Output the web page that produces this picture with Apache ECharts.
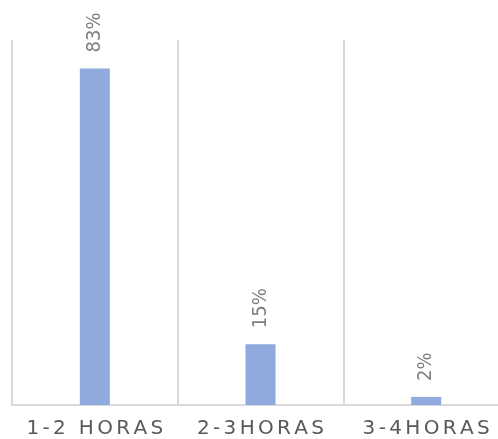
<!DOCTYPE html>
<html>
<head>
<meta charset="utf-8">
<script src="https://cdn.jsdelivr.net/npm/echarts@6/dist/echarts.min.js"></script>
<style>
  html, body { margin: 0; padding: 0; background: #fff; }
  #chart { width: 498px; height: 439px; }
</style>
</head>
<body>
<div id="chart"></div>
<script>
// categorias y porcentajes
var categories = ["1-2 HORAS", "2-3HORAS", "3-4HORAS"];
var values = [83, 15, 2];

// fuente estrecha para las etiquetas si existe
function hasFont(name) {
  var ctx = document.createElement("canvas").getContext("2d");
  ctx.font = "40px monospace";
  var a = ctx.measureText("8883%mmWi").width;
  ctx.font = "40px '" + name + "', monospace";
  var b = ctx.measureText("8883%mmWi").width;
  return a !== b;
}
var labelFont = "Liberation Sans";
var labelSize = 18;
if (hasFont("Liberation Sans Narrow")) {
  labelFont = "Liberation Sans Narrow";
  labelSize = 22;
} else if (hasFont("DejaVu Sans Condensed")) {
  labelFont = "DejaVu Sans Condensed";
  labelSize = 20;
}

var chart = echarts.init(document.getElementById("chart"));

chart.setOption({
  animation: false,
  grid: {
    left: 12,
    top: 40,
    right: -11,
    bottom: 34,
    containLabel: false,
    outerBoundsMode: "none",
  },
  xAxis: {
    type: "category",
    data: categories,
    axisTick: { show: false },
    axisLine: {
      lineStyle: { color: "#d9d9d9", width: 2 },
    },
    splitLine: {
      show: true,
      lineStyle: { color: "#d9d9d9", width: 2 },
    },
    axisLabel: {
      color: "#595959",
      fontSize: 20,
      fontFamily: "DejaVu Sans",
      margin: 14,
      interval: 0,
      // espaciado entre letras
      formatter: function (v) {
        return v.split("").join("\u2006");
      },
    },
  },
  yAxis: {
    type: "value",
    min: 0,
    max: 90,
    show: false,
  },
  series: [
    {
      type: "bar",
      data: values,
      barWidth: 30,
      itemStyle: { color: "#8faadc" },
      label: {
        show: true,
        position: "top",
        rotate: 90,
        distance: 16,
        align: "left",
        verticalAlign: "middle",
        color: "#7f7f7f",
        fontSize: labelSize,
        fontFamily: labelFont,
        formatter: "{c}%",
      },
    },
  ],
});
</script>
</body>
</html>
